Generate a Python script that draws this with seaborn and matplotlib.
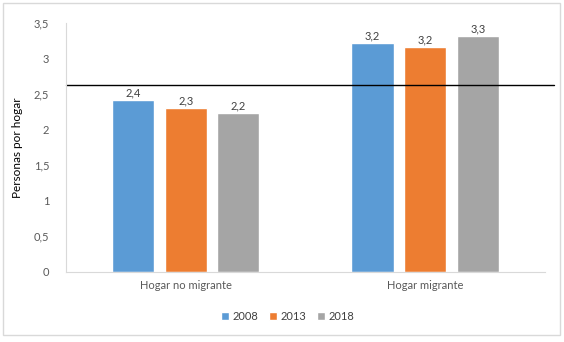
import pandas as pd
import matplotlib.pyplot as plt
import matplotlib.patches as patches
from matplotlib.ticker import FuncFormatter, MultipleLocator
import seaborn as sns

# Datos
categorias = ['Hogar no migrante', 'Hogar migrante']
anios = ['2008', '2013', '2018']
valores_2008 = [2.42, 3.22]
valores_2013 = [2.31, 3.16]
valores_2018 = [2.24, 3.32]
linea_promedio = 2.63
colores = ['#5B9BD5', '#ED7D31', '#A5A5A5']

df = pd.DataFrame({
    'categoria': categorias * 3,
    'anio': [a for a in anios for _ in categorias],
    'valor': valores_2008 + valores_2013 + valores_2018,
})

sns.set_style('white')
plt.rcParams['font.family'] = ['Lato', 'DejaVu Sans']

fig = plt.figure(figsize=(5.64, 3.42), dpi=100)
ax = fig.add_axes([0.117, 0.205, 0.849, 0.728])

sns.barplot(data=df, x='categoria', y='valor', hue='anio', palette=colores,
            width=0.66, gap=0.2, ax=ax, saturation=1)
ax.set_xlim(-0.5, 1.5)

coma = lambda v: f'{v:.1f}'.replace('.', ',')
for cont in ax.containers:
    ax.bar_label(cont, labels=[coma(b.get_height()) for b in cont],
                 fontsize=8, color='#404040', padding=1)

# Línea horizontal de referencia
ax.plot([0, 1.02], [linea_promedio, linea_promedio], transform=ax.get_yaxis_transform(),
        color='black', lw=1, clip_on=False)

ax.set_ylim(0, 3.5)
ax.yaxis.set_major_locator(MultipleLocator(0.5))
ax.yaxis.set_major_formatter(FuncFormatter(lambda v, p: f'{v:g}'.replace('.', ',')))
ax.tick_params(axis='both', length=0, labelsize=8, labelcolor='#595959')
ax.tick_params(axis='y', pad=12)
ax.tick_params(axis='x', pad=6)
ax.set_xlabel('')
ax.set_ylabel('Personas por hogar', fontsize=8.5, color='black', labelpad=8)

for lado in ['top', 'right']:
    ax.spines[lado].set_visible(False)
for lado in ['left', 'bottom']:
    ax.spines[lado].set_color('#D9D9D9')
    ax.spines[lado].set_linewidth(0.8)

ax.legend(loc='center', bbox_to_anchor=(0.51, 0.076), bbox_transform=fig.transFigure,
          ncol=3, frameon=False, fontsize=8, handlelength=0.7, handleheight=0.7,
          handletextpad=0.3, columnspacing=1.0, labelcolor='#404040')

# Marco del gráfico
fig.patches.append(patches.Rectangle((0.006, 0.02), 0.987, 0.97, transform=fig.transFigure,
                                     fill=False, edgecolor='#D9D9D9', lw=1))

plt.savefig('out.png', dpi=100)
